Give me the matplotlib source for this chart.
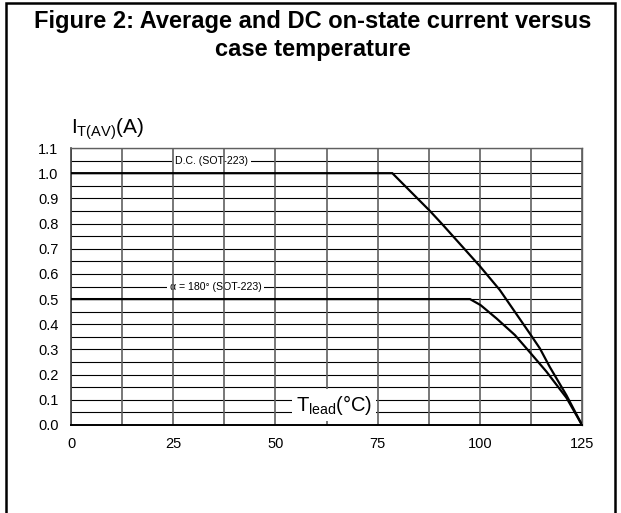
import matplotlib
matplotlib.use("Agg")
import matplotlib.pyplot as plt
from matplotlib.patches import Rectangle
import numpy as np

plt.rcParams['font.family'] = ['Liberation Sans', 'DejaVu Sans']
plt.rcParams['mathtext.fontset'] = 'custom'
plt.rcParams['mathtext.rm'] = 'Liberation Sans'

# ---- data ----
temp_dc = [0, 78.6, 87.8, 91.0, 100.0, 104.9, 112.5, 114.7, 117.1, 121.2, 125]
current_dc = [1.0, 1.0, 0.85, 0.794, 0.631, 0.536, 0.357, 0.304, 0.231, 0.118, 0.0]
temp_180 = [0, 97.6, 100.2, 104.1, 108.6, 112.5, 116.3, 121.2, 125]
current_180 = [0.5, 0.5, 0.476, 0.423, 0.357, 0.284, 0.212, 0.108, 0.0]

x_ticks = [0, 25, 50, 75, 100, 125]
x_minor = [12.5, 37.5, 62.5, 87.5, 112.5]
y_ticks = [0.0, 0.1, 0.2, 0.3, 0.4, 0.5, 0.6, 0.7, 0.8, 0.9, 1.0, 1.1]
y_minor = [0.05, 0.15, 0.25, 0.35, 0.45, 0.55, 0.65, 0.75, 0.85, 0.95, 1.05]
y_tick_labels = ["0.0", "0.1", "0.2", "0.3", "0.4", "0.5", "0.6", "0.7", "0.8", "0.9", "1.0", "1.1"]

title = "Figure 2: Average and DC on-state current versus\ncase temperature"
label_dc = "D.C. (SOT-223)"
label_180 = "α = 180° (SOT-223)"

W, H = 621, 513
fig = plt.figure(figsize=(W / 100, H / 100), dpi=100)
ax = fig.add_axes([71 / W, 1 - 425 / H, (582 - 71) / W, (425 - 148) / H])

ax.set_xlim(0, 125)
ax.set_ylim(0, 1.1)
ax.set_xticks(x_ticks)
ax.set_xticks(x_minor, minor=True)
ax.set_yticks(y_ticks)
ax.set_yticks(y_minor, minor=True)
ax.set_yticklabels(y_tick_labels)
ax.tick_params(axis='both', which='both', length=0, labelsize=10.5, colors='black')
ax.tick_params(axis='y', pad=9)
ax.tick_params(axis='x', pad=9)

ax.grid(axis='x', which='both', color='#606060', linewidth=1.2)
ax.grid(axis='y', which='both', color='black', linewidth=0.8)
ax.xaxis.set_zorder(2)
ax.yaxis.set_zorder(0.5)

for s in ['top', 'right']:
    ax.spines[s].set_color('#606060')
    ax.spines[s].set_linewidth(1.0)
ax.spines['left'].set_color('#404040')
ax.spines['left'].set_linewidth(1.2)
ax.spines['bottom'].set_color('black')
ax.spines['bottom'].set_linewidth(1.4)

ax.plot(temp_dc, current_dc, color='black', linewidth=1.6, zorder=3, solid_joinstyle='miter')
ax.plot(temp_180, current_180, color='black', linewidth=1.6, zorder=3, solid_joinstyle='miter')

ax.text(34.4, 1.05, label_dc, ha='center', va='center', fontsize=7.6, zorder=1,
        bbox=dict(boxstyle='square,pad=0.25', fc='white', ec='none'))
ax.text(35.4, 0.55, label_180, ha='center', va='center', fontsize=7.6, zorder=1,
        bbox=dict(boxstyle='square,pad=0.25', fc='white', ec='none'))

ax.text(64.4, 0.078, r'$\mathregular{T_{lead}(°C)}$', ha='center', va='center', fontsize=14.5,
        zorder=4, bbox=dict(boxstyle='square,pad=0.2', fc='white', ec='none'))

fig.text(71 / W, 1 - 134 / H, r'$\mathregular{I_{T(AV)}(A)}$', ha='left', va='baseline', fontsize=15)

fig.text(313 / W, 1 - 10 / H, title, ha='center', va='top', fontsize=17, fontweight='bold',
         linespacing=1.3)

fig.patches.append(Rectangle((6 / W, -0.1), (615 - 6) / W, 1.1 - 3.5 / H, transform=fig.transFigure,
                             fill=False, edgecolor='black', linewidth=1.8))

fig.savefig("out.png", dpi=100)
